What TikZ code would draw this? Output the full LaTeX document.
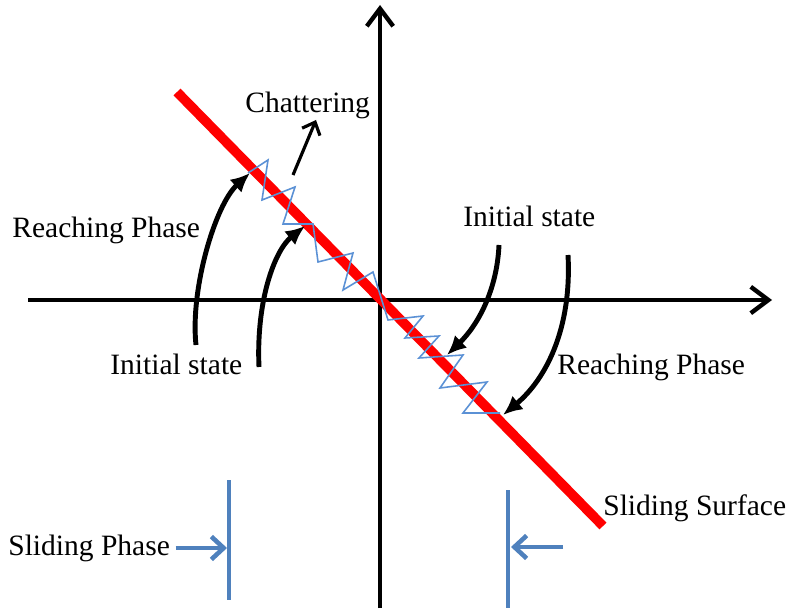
\documentclass[tikz,border=0pt]{standalone}
\usepackage{fontspec}
\setmainfont{Liberation Serif}
\usepackage{xcolor}
\usepackage{tikz}
\usetikzlibrary{arrows.meta,positioning}
\definecolor{barblue}{RGB}{79,129,189}
\definecolor{zigblue}{RGB}{91,145,213}

\begin{document}
\begin{tikzpicture}[x=0.02cm,y=-0.02cm,
    lbl/.style={inner sep=0pt,anchor=base west,font=\fontsize{16.8}{20}\selectfont},
    axis/.style={line width=2.5pt,-{Straight Barb[length=10pt,width=15pt,line width=2.5pt]}},
    reach/.style={line width=2.8pt,-{Latex[length=11pt,width=10pt]}},
    phasearrow/.style={barblue,line width=2.6pt,-{Straight Barb[length=7pt,width=13pt,line width=2.6pt]}}]
        \useasboundingbox (0,0) rectangle (788,611);
        \coordinate (xl) at (28,300); \coordinate (xr) at (772,300);
        \coordinate (yb) at (380,608); \coordinate (yt) at (380,5);
        \draw[axis] (xl) -- (xr);
        \draw[axis] (yb) -- (yt);
        \coordinate (s1) at (177,92); \coordinate (s2) at (603,526);
        \draw[red,line width=5.5pt] (s1) -- (s2);
        \draw[zigblue,line width=0.9pt] (248,173) \foreach \p in {(268,160),(262,200),(295,187),(283,224),(313,224),(318,262),(353,253),(343,290),(373,272),(388,320),(423,316),(405,338),(439,336),(419,358),(463,355),(440,388),(487,382),(463,413),(500,413)}{-- \p};
        \node[lbl] (chat) at (245,113) {Chattering};
        \node[lbl] (reachL) at (12,238) {Reaching Phase};
        \node[lbl] (initL) at (110,375) {Initial state};
        \node[lbl] (initR) at (463,227) {Initial state};
        \node[lbl] (reachR) at (557,375) {Reaching Phase};
        \node[lbl] (surf) at (603,515) {Sliding Surface};
        \node[lbl] (slidePh) at (8,555) {Sliding Phase};
        \coordinate (c0) at (293,175); \coordinate (c1) at (316,120);
        \draw[line width=1.8pt,-{Straight Barb[length=6pt,width=11pt,line width=1.8pt]}] (c0) -- (c1);
        \coordinate (a1) at (196,345); \coordinate (a2) at (250,173);
        \coordinate (b1) at (259,367); \coordinate (b2) at (305,226);
        \coordinate (d1) at (499,245); \coordinate (d2) at (447,355);
        \coordinate (e1) at (568,255); \coordinate (e2) at (503,415);
        \draw[reach] (a1) .. controls (190,290) and (215,205) .. (a2);
        \draw[reach] (b1) .. controls (256,300) and (275,250) .. (b2);
        \draw[reach] (d1) .. controls (497,290) and (478,325) .. (d2);
        \draw[reach] (e1) .. controls (572,330) and (545,380) .. (e2);
        \coordinate (lb1) at (229,480); \coordinate (lb2) at (229,600);
        \coordinate (rb1) at (508,490); \coordinate (rb2) at (508,608);
        \draw[barblue,line width=2.2pt] (lb1) -- (lb2);
        \draw[barblue,line width=2.2pt] (rb1) -- (rb2);
        \coordinate (la) at (227,548); \coordinate (rs) at (563,547); \coordinate (ra) at (511,547);
        \draw[phasearrow] ([xshift=3pt]slidePh.east |- la) -- (la);
        \draw[phasearrow] (rs) -- (ra);
    \end{tikzpicture}
\end{document}
